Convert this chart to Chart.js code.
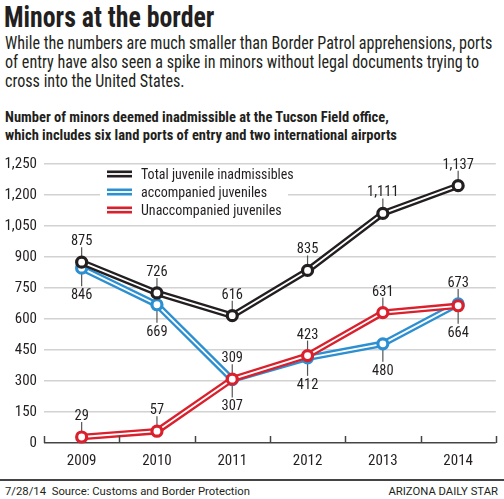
<!DOCTYPE html>
<html>
<head>
<meta charset="utf-8">
<script src="https://cdn.jsdelivr.net/npm/chart.js@4.4.1/dist/chart.umd.min.js"></script>
<style>
  html, body { margin: 0; padding: 0; background: #fff; }
  body { width: 504px; height: 499px; position: relative; overflow: hidden; color: #231f20;
         font-family: "Roboto Condensed", "DejaVu Sans Condensed", sans-serif; }
  .abs { position: absolute; white-space: nowrap; transform-origin: left top; }
  #title { left: 4px; top: 1px; font-size: 30px; line-height: 32px; font-weight: bold; transform: scaleX(0.86); }
  #intro { left: 5px; top: 34px; font-size: 17.5px; line-height: 19.2px; transform: scaleX(0.92); }
  #sub { left: 5px; top: 109px; font-size: 14.5px; line-height: 18px; font-weight: bold; }
  #chartBox { position: absolute; left: 0; top: 148px; width: 504px; height: 330px; }
  #rule { position: absolute; left: 0; top: 479px; width: 504px; height: 1.5px; background: #444; }
  .foot { top: 485px; font-family: Roboto, "Liberation Sans", sans-serif; font-size: 11.3px; }
  #source { left: 5px; }
  #credit { right: 6px; }
</style>
</head>
<body>
<div id="title" class="abs">Minors at the border</div>
<div id="intro" class="abs">While the numbers are much smaller than Border Patrol apprehensions, ports<br>of entry have also seen a spike in minors without legal documents trying to<br>cross into the United States.</div>
<div id="sub" class="abs">Number of minors deemed inadmissible at the Tucson Field office,<br>which includes six land ports of entry and two international airports</div>
<div id="chartBox"><canvas id="chart"></canvas></div>
<div id="rule"></div>
<div id="source" class="abs foot">7/28/14&nbsp; Source: Customs and Border Protection</div>
<div id="credit" class="abs foot">ARIZONA DAILY STAR</div>
<script>
const years = ["2009", "2010", "2011", "2012", "2013", "2014"];
// the 2014 total dot sits above the 1,200 line in the original, though it is labelled 1,137
const totalValues = [875, 726, 616, 835, 1111, 1245];
const totalPrinted = [875, 726, 616, 835, 1111, 1137];
const accompanied = [846, 669, 307, 412, 480, 673];
const unaccompanied = [29, 57, 309, 423, 631, 664];
const yTickLabels = ["0", "150", "300", "450", "600", "750", "900", "1,050", "1,200", "1,250"];
const legendLabels = ["Total juvenile inadmissibles", "accompanied juveniles", "Unaccompanied juveniles"];

const FONT = "'Roboto Condensed', 'DejaVu Sans Condensed', sans-serif";
const colors = { total: "#231f20", acc: "#2b8fd1", unacc: "#d9202c" };

function fmt(n) {
  return n.toLocaleString("en-US");
}

function seriesPair(name, values, printed, color, sides, order) {
  const outer = {
    label: name, data: values, borderColor: color, borderWidth: 6.5,
    pointRadius: 0, pointHoverRadius: 0, tension: 0, order: order + 1, clip: false
  };
  const inner = {
    label: name, data: values, borderColor: "#fff", borderWidth: 1.8,
    pointRadius: 5, pointBorderWidth: 3.2, pointBorderColor: color,
    pointBackgroundColor: "#fff", tension: 0, order: order, clip: false,
    printed: printed, sides: sides
  };
  return [outer, inner];
}

const datasets = [
  ...seriesPair(legendLabels[0], totalValues, totalPrinted, colors.total,
    ["up", "up", "up", "up", "up", "up"], 0),
  ...seriesPair(legendLabels[2], unaccompanied, unaccompanied, colors.unacc,
    ["up", "up", "up", "up", "up", "down"], 2),
  ...seriesPair(legendLabels[1], accompanied, accompanied, colors.acc,
    ["down", "down", "down", "down", "down", "up"], 4)
];

// leader lines behind the dots, numbers on top
const pointLabels = {
  id: "pointLabels",
  beforeDatasetsDraw(chart) {
    const c = chart.ctx;
    c.save();
    c.strokeStyle = "#555";
    c.lineWidth = 1.2;
    chart.data.datasets.forEach((ds, i) => {
      if (!ds.printed) return;
      chart.getDatasetMeta(i).data.forEach((p, j) => {
        const dir = ds.sides[j] === "up" ? -1 : 1;
        c.beginPath();
        c.moveTo(p.x, p.y);
        c.lineTo(p.x, p.y + dir * (dir < 0 ? 15 : 18));
        c.stroke();
      });
    });
    c.restore();
  },
  afterDatasetsDraw(chart) {
    const c = chart.ctx;
    c.save();
    c.fillStyle = "#231f20";
    c.font = "14.5px " + FONT;
    c.textAlign = "center";
    chart.data.datasets.forEach((ds, i) => {
      if (!ds.printed) return;
      chart.getDatasetMeta(i).data.forEach((p, j) => {
        if (ds.sides[j] === "up") {
          c.textBaseline = "alphabetic";
          c.fillText(fmt(ds.printed[j]), p.x, p.y - 17);
        } else {
          c.textBaseline = "top";
          c.fillText(fmt(ds.printed[j]), p.x, p.y + 20);
        }
      });
    });
    c.restore();
  }
};

// small upward ticks between the years on the baseline
const yearTicks = {
  id: "yearTicks",
  afterDraw(chart) {
    const x = chart.scales.x;
    const y0 = chart.scales.y.getPixelForValue(0);
    const c = chart.ctx;
    const n = years.length;
    c.save();
    c.strokeStyle = "#444";
    c.lineWidth = 1.5;
    for (let i = 0; i <= n; i++) {
      const px = Math.round(x.left + i * x.width / n) + 0.5;
      c.beginPath();
      c.moveTo(px, y0);
      c.lineTo(px, y0 - 7);
      c.stroke();
    }
    c.restore();
  }
};

const customLegend = {
  id: "customLegend",
  afterDraw(chart) {
    const c = chart.ctx;
    const rows = [
      [legendLabels[0], colors.total],
      [legendLabels[1], colors.acc],
      [legendLabels[2], colors.unacc]
    ];
    const top = 26;
    c.save();
    c.fillStyle = "#fff";
    c.fillRect(100, top - 8, 188, 54);
    c.font = "14px " + FONT;
    c.textBaseline = "middle";
    rows.forEach(([text, color], i) => {
      const cy = top + i * 18;
      c.fillStyle = color;
      c.fillRect(107, cy - 3.5, 25, 7);
      c.fillStyle = "#fff";
      c.fillRect(107, cy - 0.9, 25, 1.8);
      c.fillStyle = "#231f20";
      c.fillText(text, 141, cy + 1);
    });
    c.restore();
  }
};

new Chart(document.getElementById("chart"), {
  type: "line",
  data: { labels: years, datasets },
  plugins: [pointLabels, yearTicks, customLegend],
  options: {
    responsive: true,
    maintainAspectRatio: false,
    animation: false,
    layout: { padding: { top: 10, right: 0, left: 0, bottom: 0 } },
    plugins: { legend: { display: false }, tooltip: { enabled: false } },
    scales: {
      x: {
        offset: true,
        grid: { display: false },
        border: { display: false },
        ticks: { color: "#231f20", font: { family: FONT, size: 15 }, padding: 1 },
        afterFit: s => { s.height = 35; }
      },
      y: {
        min: 0,
        max: 1350,
        border: { display: false },
        grid: {
          drawTicks: false,
          lineWidth: 1.5,
          color: ctx => (ctx.tick && ctx.tick.value === 0 ? "#444" : "#d2d2d2")
        },
        ticks: {
          stepSize: 150,
          padding: 7,
          color: "#231f20",
          font: { family: FONT, size: 15 },
          callback: (v, i) => yTickLabels[i]
        },
        afterFit: s => { s.width = 44; }
      }
    }
  }
});
</script>
</body>
</html>
